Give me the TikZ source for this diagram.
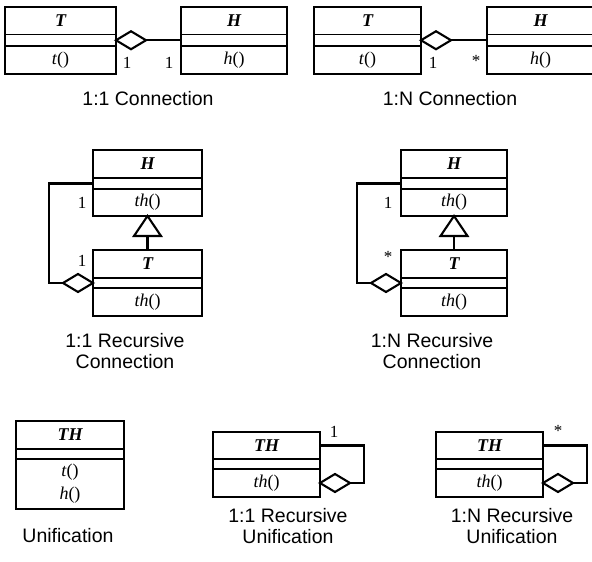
\documentclass[tikz,border=0pt]{standalone}
\usepackage{fontspec}
\setmainfont{Liberation Serif}
\setsansfont{Liberation Sans}
\usetikzlibrary{shapes.geometric,calc}
\newcommand\umlcls[9]{%
  \node[clsbox,minimum width={#4-#2},minimum height={#5-#3}] (#1) at ({(#2+#4)/2},{(#3+#5)/2}) {};
  \draw[divline] (#1.west |- 0,#6) -- (#1.east |- 0,#6);
  \draw[divline] (#1.west |- 0,#7) -- (#1.east |- 0,#7);
  \node[ctitle] (#1t) at ({(#2+#4)/2},{(#3+#6)/2}) {#8};
  \node[cmeth] (#1m) at ({(#2+#4)/2},{(#7+#5)/2}) {#9};
}
\begin{document}
\begin{tikzpicture}[x=1pt,y=-1pt,
  clsbox/.style={draw,rectangle,line width=2.6pt,inner sep=0pt,outer sep=0pt},
  divline/.style={line width=1.7pt},
  conn/.style={line width=2.1pt},
  agg/.style={diamond,draw,fill=white,line width=2.1pt,minimum width=30pt,minimum height=18pt,inner sep=0pt,outer sep=0pt},
  ctitle/.style={font=\fontsize{18}{20}\selectfont\bfseries\itshape,inner sep=0pt},
  cmeth/.style={font=\fontsize{18}{23}\selectfont,inner sep=0pt,align=center},
  mult/.style={font=\fontsize{17}{20}\selectfont,inner sep=0pt},
  caption/.style={font=\sffamily\fontsize{19.5}{21}\selectfont,inner sep=0pt,align=center}
]
\useasboundingbox (0,0) rectangle (592,562);

% ---- Row 1: 1:1 Connection
\umlcls{T1}{5}{7}{116}{74}{34.5}{46}{T}{\textit{t}()}
\umlcls{H1}{181}{7}{287}{74}{34.5}{46}{H}{\textit{h}()}
\node[agg,anchor=west] (d1) at (T1.east |- 0,40.25) {};
\draw[conn] (d1.east) -- (H1.west |- d1.east);
\node[mult] (m1a) at (127,63) {1};
\node[mult] (m1b) at (169,63) {1};
\node[caption] (c1) at (148,99) {1:1 Connection};

% ---- Row 1: 1:N Connection
\umlcls{T2}{314}{7}{421}{74}{34.5}{46}{T}{\textit{t}()}
\umlcls{H2}{487}{7}{594}{74}{34.5}{46}{H}{\textit{h}()}
\node[agg,anchor=west] (d2) at (T2.east |- 0,40.25) {};
\draw[conn] (d2.east) -- (H2.west |- d2.east);
\node[mult] (m2a) at (433,63) {1};
\node[mult] (m2b) at (476,61) {*};
\node[caption] (c2) at (450,99) {1:N Connection};

% ---- Row 2: 1:1 Recursive Connection
\umlcls{H3}{93}{150}{202}{216}{178}{189}{H}{\textit{th}()}
\umlcls{T3}{93}{250}{202}{316}{278}{288}{T}{\textit{th}()}
\draw[conn,fill=white] (H3.south) -- ++(-13.5,20) -- ++(27,0) -- cycle;
\coordinate (tb3) at ($(H3.south)+(0,20)$);
\draw[conn] (tb3) -- (T3.north);
\node[agg,anchor=east] (d3) at (T3.west |- 0,283) {};
\draw[conn] (H3.west |- 0,183.5) -- ++(-44,0) |- (d3.west);
\node[mult] (m3a) at (82,203) {1};
\node[mult] (m3b) at (82,261) {1};
\node[caption] (c3) at (125,351.5) {1:1 Recursive\\Connection};

% ---- Row 2: 1:N Recursive Connection
\umlcls{H4}{401}{150}{507}{216}{178}{189}{H}{\textit{th}()}
\umlcls{T4}{401}{250}{507}{316}{278}{288}{T}{\textit{th}()}
\draw[conn,fill=white] (H4.south) -- ++(-13.5,20) -- ++(27,0) -- cycle;
\coordinate (tb4) at ($(H4.south)+(0,20)$);
\draw[conn] (tb4) -- (T4.north);
\node[agg,anchor=east] (d4) at (T4.west |- 0,283) {};
\draw[conn] (H4.west |- 0,183.5) -- ++(-44,0) |- (d4.west);
\node[mult] (m4a) at (388,203) {1};
\node[mult] (m4b) at (388,257) {*};
\node[caption] (c4) at (432,351.5) {1:N Recursive\\Connection};

% ---- Row 3: Unification
\umlcls{U5}{16}{421}{124}{509}{449}{459}{TH}{\textit{t}()\\\textit{h}()}
\node[caption] (c5) at (68,536) {Unification};

% ---- Row 3: 1:1 Recursive Unification
\umlcls{U6}{213}{432}{320}{497}{459}{469}{TH}{\textit{th}()}
\node[agg,anchor=west] (d6) at (U6.east |- 0,483) {};
\draw[conn] (U6.east |- 0,445.5) -- ++(44,0) |- (d6.east);
\node[mult] (m6) at (334,432) {1};
\node[caption] (c6) at (288,526) {1:1 Recursive\\Unification};

% ---- Row 3: 1:N Recursive Unification
\umlcls{U7}{436}{432}{543}{497}{459}{469}{TH}{\textit{th}()}
\node[agg,anchor=west] (d7) at (U7.east |- 0,483) {};
\draw[conn] (U7.east |- 0,445.5) -- ++(44,0) |- (d7.east);
\node[mult] (m7) at (558,431) {*};
\node[caption] (c7) at (512,526) {1:N Recursive\\Unification};
\end{tikzpicture}
\end{document}
